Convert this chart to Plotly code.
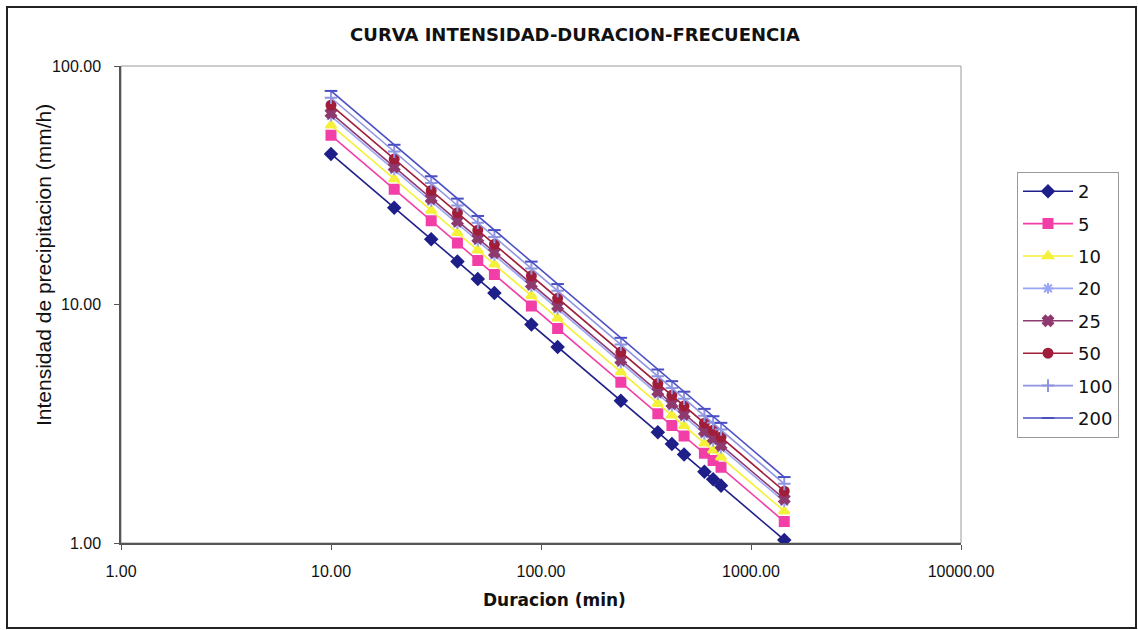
import plotly.graph_objects as go

# Duración de la lluvia (min)
duracion = [10, 20, 30, 40, 50, 60, 90, 120, 240, 360, 420, 480, 600, 660, 720, 1440]

# Intensidad (mm/h) por periodo de retorno (años)
i_2 = [42.80, 25.45, 18.78, 15.13, 12.80, 11.17, 8.24, 6.63, 3.95, 2.91, 2.60, 2.35, 1.99, 1.85, 1.74, 1.03]
i_5 = [51.20, 30.44, 22.46, 18.10, 15.31, 13.36, 9.86, 7.94, 4.72, 3.48, 3.11, 2.81, 2.38, 2.22, 2.08, 1.23]
i_10 = [56.50, 33.59, 24.79, 19.98, 16.90, 14.74, 10.88, 8.76, 5.21, 3.84, 3.43, 3.10, 2.62, 2.45, 2.29, 1.36]
i_20 = [61.70, 36.69, 27.07, 21.82, 18.45, 16.10, 11.88, 9.56, 5.69, 4.20, 3.75, 3.38, 2.86, 2.67, 2.50, 1.49]
i_25 = [63.40, 37.70, 27.81, 22.42, 18.96, 16.54, 12.20, 9.83, 5.85, 4.31, 3.85, 3.47, 2.94, 2.75, 2.57, 1.53]
i_50 = [68.50, 40.73, 30.05, 24.22, 20.49, 17.87, 13.19, 10.62, 6.32, 4.66, 4.16, 3.75, 3.18, 2.97, 2.78, 1.65]
i_100 = [73.60, 43.76, 32.29, 26.02, 22.01, 19.20, 14.17, 11.41, 6.79, 5.00, 4.47, 4.03, 3.42, 3.19, 2.99, 1.77]
i_200 = [78.60, 46.74, 34.48, 27.79, 23.51, 20.51, 15.13, 12.18, 7.25, 5.34, 4.77, 4.31, 3.65, 3.40, 3.19, 1.89]

periodos = ["2", "5", "10", "20", "25", "50", "100", "200"]
series = [i_2, i_5, i_10, i_20, i_25, i_50, i_100, i_200]

x_ticks = [1, 10, 100, 1000, 10000]
x_labels = ["1.00", "10.00", "100.00", "1000.00", "10000.00"]
y_ticks = [1, 10, 100]
y_labels = ["1.00", "10.00", "100.00"]

colores = ["#1f1f8a", "#f23fa8", "#f5f03a", "#9aa6f5", "#8e3a6e", "#a01e3a", "#8f95e0", "#4b4fc4"]
simbolos = ["diamond", "square", "triangle-up", "asterisk-open", "x", "circle",
            "cross-thin-open", "line-ew-open"]

fig = go.Figure()
for nombre, valores, color, simbolo in zip(periodos, series, colores, simbolos):
    fig.add_trace(go.Scatter(
        x=duracion, y=valores, name=nombre, mode="lines+markers",
        line=dict(color=color, width=1.6),
        marker=dict(symbol=simbolo, size=9, color=color,
                    line=dict(color=color, width=2)),
        legendgroup=nombre,
    ))

font_main = "Liberation Sans, Arial, sans-serif"
font_wide = "DejaVu Sans, Verdana, sans-serif"

fig.update_layout(
    width=1138, height=630,
    margin=dict(l=121, r=177, t=66, b=87),
    paper_bgcolor="white", plot_bgcolor="white",
    font=dict(family=font_main, color="#111111", size=16),
    title=dict(text="<b>CURVA INTENSIDAD-DURACION-FRECUENCIA</b>",
               x=(575 - 121) / 840, xref="paper", xanchor="center",
               y=1 - 35 / 630, yref="container", yanchor="middle",
               font=dict(size=18, family=font_wide, color="#111111")),
    showlegend=True,
    legend=dict(x=(1017 - 121) / 840, xanchor="left", y=(543 - 172) / 477, yanchor="top",
                bordercolor="#9a9a9a", borderwidth=1, bgcolor="white",
                font=dict(size=18, family=font_wide, color="#111111"),
                tracegroupgap=6, itemwidth=50),
)

fig.update_xaxes(
    type="log", range=[0, 4],
    tickvals=x_ticks, ticktext=x_labels,
    showgrid=False, zeroline=False,
    showline=True, linecolor="#555555", linewidth=1.5,
    ticks="outside", ticklen=5, tickcolor="#555555",
    ticklabelstandoff=8,
    tickfont=dict(size=16, family=font_main),
)
fig.update_yaxes(
    type="log", range=[0, 2],
    tickvals=y_ticks, ticktext=y_labels,
    showgrid=False, zeroline=False,
    showline=True, linecolor="#555555", linewidth=1.5,
    ticks="outside", ticklen=5, tickcolor="#555555",
    ticklabelstandoff=10,
    tickfont=dict(size=16, family=font_main),
)

# Títulos de los ejes
fig.add_annotation(text="<b>Duracion (min)</b>", xref="paper", yref="paper",
                   x=(554 - 121) / 840, y=(543 - 600) / 477,
                   xanchor="center", yanchor="middle", showarrow=False,
                   font=dict(size=17, family=font_wide, color="#111111"))
fig.add_annotation(text="Intensidad de precipitacion (mm/h)", xref="paper", yref="paper",
                   x=(43 - 121) / 840, y=(543 - 265) / 477, textangle=-90,
                   xanchor="center", yanchor="middle", showarrow=False,
                   font=dict(size=21, family=font_main, color="#111111"))

# Borde del área de trazado (arriba y derecha en gris)
fig.add_shape(type="rect", xref="paper", yref="paper", x0=0, x1=1, y0=0, y1=1,
              line=dict(color="#9a9a9a", width=1), layer="below")
# Marco exterior del gráfico
fig.add_shape(type="rect", xref="paper", yref="paper",
              x0=-114 / 840, x1=1 + 175 / 840, y0=-85 / 477, y1=1 + 59 / 477,
              line=dict(color="#222222", width=2))

fig.write_html("out.html")
